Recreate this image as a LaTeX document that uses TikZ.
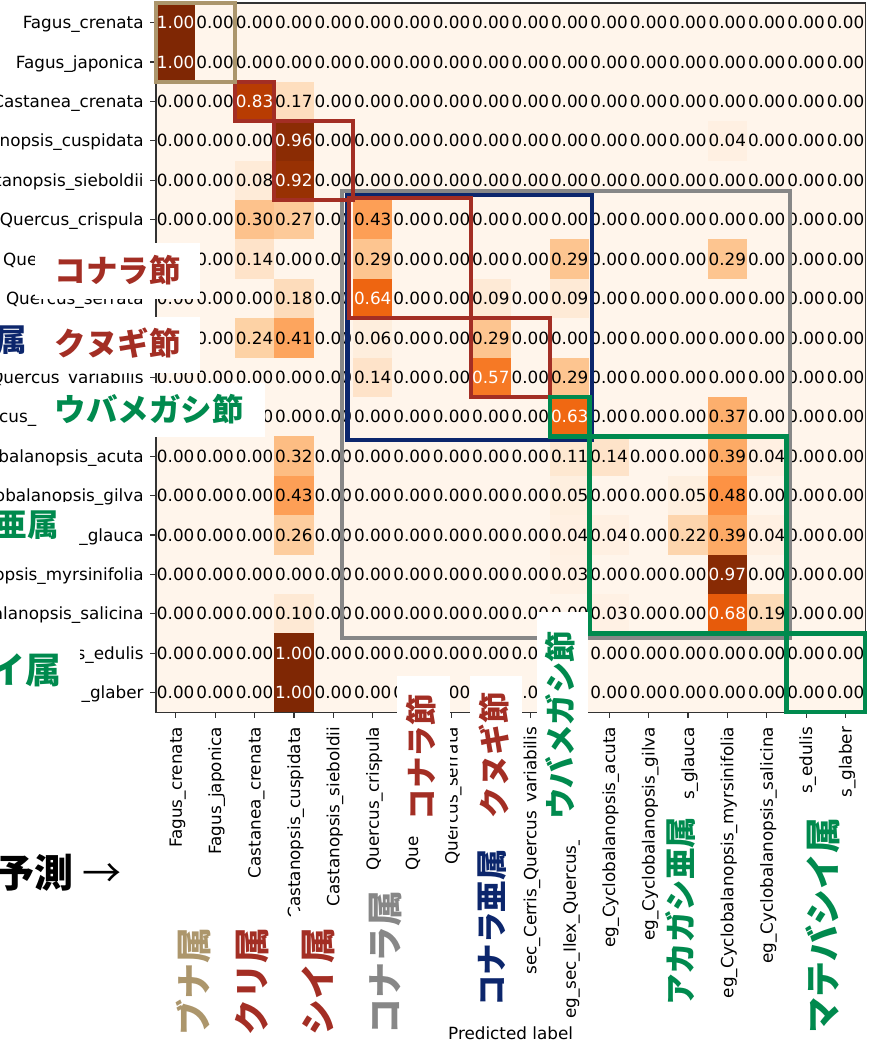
\documentclass[tikz,border=0pt]{standalone}
\usepackage{fontspec}
\setmainfont{DejaVu Sans}
\newfontfamily\jpfont{Noto Sans CJK JP}
\usepackage{tikz}

\definecolor{or0}{RGB}{255,245,235}
\definecolor{or1}{RGB}{254,230,206}
\definecolor{or2}{RGB}{253,208,162}
\definecolor{or3}{RGB}{253,174,107}
\definecolor{or4}{RGB}{253,141,60}
\definecolor{or5}{RGB}{241,105,19}
\definecolor{or6}{RGB}{217,72,1}
\definecolor{or7}{RGB}{166,54,3}
\definecolor{or8}{RGB}{127,39,4}
\definecolor{bunatan}{RGB}{172,150,108}
\definecolor{kurired}{RGB}{163,46,36}
\definecolor{subgnavy}{RGB}{12,38,108}
\definecolor{genusgray}{RGB}{135,135,135}
\definecolor{kashigreen}{RGB}{0,138,78}

\newcommand{\cellshade}[1]{%
	\pgfmathsetmacro{\cmpos}{#1*8}%
	\pgfmathtruncatemacro{\cmlo}{min(floor(\cmpos),7)}%
	\pgfmathtruncatemacro{\cmhi}{\cmlo+1}%
	\pgfmathtruncatemacro{\cmpct}{round((\cmhi-\cmpos)*100)}%
	\colorlet{cellcol}{or\cmlo!\cmpct!or\cmhi}}

\begin{document}
\begin{tikzpicture}[x=1pt, y=-1pt,
		lab/.style={font=\fontsize{16.8}{18}\selectfont, inner sep=0pt, text height=12.2pt, text depth=0pt},
		jpsm/.style={font=\jpfont\bfseries\fontsize{31.5}{32}\selectfont, inner sep=0pt},
		jpbg/.style={font=\jpfont\bfseries\fontsize{36}{38}\selectfont, inner sep=0pt},
		grp/.style={line width=4.5pt},
		mask/.style={fill=white}]
			\useasboundingbox (0,0) rectangle (877,1048);
			\clip (0,0) rectangle (877,1048);
			\begin{scope}[shift={(156,3)}, x=39.4pt, y=-39.4pt]
				\fill[or0] (0,0) rectangle (18,18);
				\foreach \rowvals [count=\r from 0] in {
					{1.00,0.00,0.00,0.00,0.00,0.00,0.00,0.00,0.00,0.00,0.00,0.00,0.00,0.00,0.00,0.00,0.00,0.00},
					{1.00,0.00,0.00,0.00,0.00,0.00,0.00,0.00,0.00,0.00,0.00,0.00,0.00,0.00,0.00,0.00,0.00,0.00},
					{0.00,0.00,0.83,0.17,0.00,0.00,0.00,0.00,0.00,0.00,0.00,0.00,0.00,0.00,0.00,0.00,0.00,0.00},
					{0.00,0.00,0.00,0.96,0.00,0.00,0.00,0.00,0.00,0.00,0.00,0.00,0.00,0.00,0.04,0.00,0.00,0.00},
					{0.00,0.00,0.08,0.92,0.00,0.00,0.00,0.00,0.00,0.00,0.00,0.00,0.00,0.00,0.00,0.00,0.00,0.00},
					{0.00,0.00,0.30,0.27,0.00,0.43,0.00,0.00,0.00,0.00,0.00,0.00,0.00,0.00,0.00,0.00,0.00,0.00},
					{0.00,0.00,0.14,0.00,0.00,0.29,0.00,0.00,0.00,0.00,0.29,0.00,0.00,0.00,0.29,0.00,0.00,0.00},
					{0.00,0.00,0.00,0.18,0.00,0.64,0.00,0.00,0.09,0.00,0.09,0.00,0.00,0.00,0.00,0.00,0.00,0.00},
					{0.00,0.00,0.24,0.41,0.00,0.06,0.00,0.00,0.29,0.00,0.00,0.00,0.00,0.00,0.00,0.00,0.00,0.00},
					{0.00,0.00,0.00,0.00,0.00,0.14,0.00,0.00,0.57,0.00,0.29,0.00,0.00,0.00,0.00,0.00,0.00,0.00},
					{0.00,0.00,0.00,0.00,0.00,0.00,0.00,0.00,0.00,0.00,0.63,0.00,0.00,0.00,0.37,0.00,0.00,0.00},
					{0.00,0.00,0.00,0.32,0.00,0.00,0.00,0.00,0.00,0.00,0.11,0.14,0.00,0.00,0.39,0.04,0.00,0.00},
					{0.00,0.00,0.00,0.43,0.00,0.00,0.00,0.00,0.00,0.00,0.05,0.00,0.00,0.05,0.48,0.00,0.00,0.00},
					{0.00,0.00,0.00,0.26,0.00,0.00,0.00,0.00,0.00,0.00,0.04,0.04,0.00,0.22,0.39,0.04,0.00,0.00},
					{0.00,0.00,0.00,0.00,0.00,0.00,0.00,0.00,0.00,0.00,0.03,0.00,0.00,0.00,0.97,0.00,0.00,0.00},
					{0.00,0.00,0.00,0.10,0.00,0.00,0.00,0.00,0.00,0.00,0.00,0.03,0.00,0.00,0.68,0.19,0.00,0.00},
					{0.00,0.00,0.00,1.00,0.00,0.00,0.00,0.00,0.00,0.00,0.00,0.00,0.00,0.00,0.00,0.00,0.00,0.00},
					{0.00,0.00,0.00,1.00,0.00,0.00,0.00,0.00,0.00,0.00,0.00,0.00,0.00,0.00,0.00,0.00,0.00,0.00}}{
					\foreach \v [count=\c from 0] in \rowvals {
						\cellshade{\v}
						\fill[cellcol] (\c,\r) rectangle +(1,1);
						\ifdim\v pt>0.5pt \def\numcol{white}\else\def\numcol{black}\fi
						\node[lab, text=\numcol] (n\r-\c) at (\c+0.5,\r+0.5) {\v};
					}
				}
				\draw[line width=1.4pt, black!80] (0,0) rectangle (18,18);
				\foreach \k in {0,...,17} {
					\draw[line width=1.2pt, black!80] (-0.14,\k+0.5) -- (0,\k+0.5);
					\draw[line width=1.2pt, black!80] (\k+0.5,18) -- (\k+0.5,18.15);
				}
				\foreach \r/\lab in {0/Fagus\_crenata, 1/Fagus\_japonica, 2/Castanea\_crenata,
						3/Castanopsis\_cuspidata, 4/Castanopsis\_sieboldii, 5/Quercus\_crispula,
						7/Quercus\_serrata, 9/sec\_Cerris\_Quercus\_variabilis,
						11/eg\_Cyclobalanopsis\_acuta, 12/eg\_Cyclobalanopsis\_gilva, 13/\_glauca,
						14/eg\_Cyclobalanopsis\_myrsinifolia, 15/eg\_Cyclobalanopsis\_salicina,
						16/s\_edulis, 17/\_glaber}
					\node[lab, anchor=east] (r\r) at (-0.31,\r+0.5) {\lab};
				\foreach \c/\lab in {0/Fagus\_crenata, 1/Fagus\_japonica, 2/Castanea\_crenata,
						3/Castanopsis\_cuspidata, 4/Castanopsis\_sieboldii, 5/Quercus\_crispula,
						7/Quercus\_serrata, 9/sec\_Cerris\_Quercus\_variabilis,
						11/eg\_Cyclobalanopsis\_acuta, 12/eg\_Cyclobalanopsis\_gilva, 13/s\_glauca,
						14/eg\_Cyclobalanopsis\_myrsinifolia, 15/eg\_Cyclobalanopsis\_salicina,
						16/s\_edulis, 17/s\_glaber}
					\node[lab, anchor=east, rotate=90] (c\c) at (\c+0.5,18.37) {\lab};
				\draw[grp, genusgray] (4.72,4.77) rectangle (16.09,16.12);
				\draw[grp, subgnavy] (4.86,4.87) rectangle (11.07,11.09);
				\draw[grp, kurired] (4.9,4.95) rectangle (8,8);
				\draw[grp, kurired] (8,8) rectangle (10,10);
				\draw[grp, kurired] (2,2) rectangle (3,3);
				\draw[grp, kurired] (3,3) rectangle (5,5);
				\draw[grp, kashigreen] (10,10) rectangle (11,11);
				\draw[grp, kashigreen] (11,11) rectangle (16,16);
				\draw[grp, kashigreen] (16,16) rectangle (18,18);
				\draw[grp, bunatan] (0,0) rectangle (2,2);
			\end{scope}
			\node[lab, anchor=west] (r6) at (3,259.1) {Quer};
			\node[lab, anchor=west] (r10) at (-1,416.7) {cus\_};
			\node[lab, anchor=west, rotate=90] (c6) at (412.1,871) {Que};
			\node[lab, anchor=west, rotate=90] (c10) at (569.7,1019) {eg\_sec\_Ilex\_Quercus\_};
			% white label patches
			\fill[mask] (35,243) rectangle (200,299);
			\fill[mask] (0,317) rectangle (200,373);
			\fill[mask] (40,383) rectangle (265,437);
			\fill[mask] (0,502) rectangle (78,550);
			\fill[mask] (0,638) rectangle (80,705);
			\fill[mask] (397,676) rectangle (450,835);
			\fill[mask] (470,676) rectangle (522,1012);
			\fill[mask] (537,612) rectangle (588,840);
			\fill[mask] (660,800) rectangle (703,1015);
			\fill[mask] (797,800) rectangle (855,1042);
			\fill[mask] (291,911) rectangle (340,1045);
			\node[jpsm, text=kurired] (konara-h) at (117.5,270.5) {コナラ節};
			\node[jpsm, text=subgnavy, anchor=east] (zoku-h) at (27,340) {属};
			\node[jpsm, text=kurired] (kunugi-h) at (117.5,343) {クヌギ節};
			\node[jpsm, text=kashigreen] (ubame-h) at (149,409) {ウバメガシ節};
			\node[jpsm, text=kashigreen, anchor=east] (akagashi-h) at (59,525) {亜属};
			\node[jpbg, text=kashigreen, anchor=east] (matebashii-h) at (62,670) {イ属};
			\node[jpbg, font=\jpfont\bfseries\fontsize{39}{40}\selectfont, anchor=east] (yosoku) at (122,873) {予測 {\mdseries →}};
			\node[jpsm, text=kurired, rotate=90] (konara-v) at (421,757) {コナラ節};
			\node[jpsm, text=kurired, rotate=90] (kunugi-v) at (494,755) {クヌギ節};
			\node[jpsm, text=subgnavy, rotate=90] (konarasubg-v) at (492,928) {コナラ亜属};
			\node[jpsm, text=kashigreen, rotate=90] (ubame-v) at (560,725) {ウバメガシ節};
			\node[jpsm, text=kashigreen, rotate=90] (akagashi-v) at (680,911) {アカガシ亜属};
			\node[jpbg, text=kashigreen, rotate=90] (matebashii-v) at (823,925) {マテバシイ属};
			\node[jpbg, text=bunatan, rotate=90] (buna-v) at (193,981) {ブナ属};
			\node[jpbg, text=kurired, rotate=90] (kuri-v) at (252,981) {クリ属};
			\node[jpbg, text=kurired, rotate=90] (shii-v) at (318,981) {シイ属};
			\node[jpbg, text=genusgray, rotate=90] (konarag-v) at (386,962) {コナラ属};
			\node[lab] (xlab) at (510.6,1033) {Predicted label};
		\end{tikzpicture}
\end{document}
